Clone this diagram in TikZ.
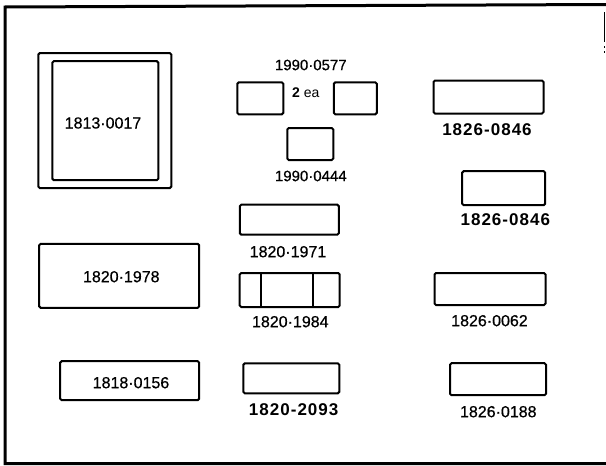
\documentclass[tikz,border=0pt]{standalone}
\usepackage{fontspec}
\setmainfont{Liberation Sans}
\begin{document}
\begin{tikzpicture}[x=1pt,y=-1pt,
  part/.style={draw,line width=2pt,rounded corners=1.5pt,inner sep=0pt},
  lbl/.style={inner sep=0pt,font=\fontsize{16}{18}\selectfont\addfontfeature{FakeBold=0.6}},
  lblsm/.style={inner sep=0pt,font=\fontsize{15}{17}\selectfont\addfontfeature{FakeBold=0.6}},
  lblbold/.style={inner sep=0pt,font=\fontsize{17}{19}\selectfont\bfseries\addfontfeature{LetterSpace=6}},
  frame/.style={line width=3pt,line cap=round}]
\useasboundingbox (0,0) rectangle (606,466);
% frame
\coordinate (ftl) at (5,7);
\coordinate (ftr) at (606,4.5);
\coordinate (fbl) at (5,463.5);
\coordinate (fbr) at (606,463.5);
\coordinate (frt) at (604.5,12);
\coordinate (frb) at (604.5,42);
\coordinate (frd1) at (604.5,46);
\coordinate (frd2) at (604.5,55);
\draw[frame] (ftr) -- (ftl) -- (fbl) -- (fbr);
\draw[line width=1.5pt] (frt) -- (frb);
\draw[line width=1.2pt,dash pattern=on 2pt off 3pt] (frd1) -- (frd2);
% 1813-0017
\node[part,minimum width=133pt,minimum height=135pt] (o1813) at (104.8,120.6) {};
\node[part,minimum width=106pt,minimum height=119pt] (i1813) at (105.3,120.7) {};
\node[lbl] (t1813) at (103,123) {1813·0017};
% 1990-0577 / 0444
\node[lblsm] (t0577) at (310.8,65) {1990·0577};
\node[part,minimum width=46pt,minimum height=32pt] (b0577a) at (260.3,98.3) {};
\node[part,minimum width=43pt,minimum height=32pt] (b0577b) at (355.3,98.3) {};
\node[inner sep=0pt,font=\fontsize{14}{16}\selectfont] (t2ea) at (305.8,92.7) {\textbf{2} ea};
\node[part,minimum width=46pt,minimum height=32pt] (b0444) at (310.3,144) {};
\node[lblsm] (t0444) at (310.8,176) {1990·0444};
% right column
\node[part,minimum width=110pt,minimum height=33pt] (b0846a) at (488.5,97) {};
\node[lblbold] (t0846a) at (487,130) {1826-0846};
\node[part,minimum width=83pt,minimum height=34pt] (b0846b) at (503.7,188.2) {};
\node[lblbold] (t0846b) at (505.3,220) {1826-0846};
\node[part,minimum width=111pt,minimum height=32pt] (b0062) at (490,289) {};
\node[lbl] (t0062) at (489.5,320.7) {1826·0062};
\node[part,minimum width=96pt,minimum height=32pt] (b0188) at (498,379.2) {};
\node[lbl] (t0188) at (498.3,411.7) {1826·0188};
% left column lower
\node[part,minimum width=160pt,minimum height=64pt] (b1978) at (119.2,275.8) {};
\node[lbl] (t1978) at (121.3,276.7) {1820·1978};
\node[part,minimum width=139pt,minimum height=39pt] (b0156) at (129.7,380.7) {};
\node[lbl] (t0156) at (131,382.7) {1818·0156};
% middle column lower
\node[part,minimum width=99pt,minimum height=30pt] (b1971) at (289.3,219.7) {};
\node[lbl] (t1971) at (288,251.7) {1820·1971};
\node[part,minimum width=100pt,minimum height=34pt] (b1984) at (289.7,290) {};
\draw[line width=2pt] (b1984.north west) ++(22.4,0) coordinate (d1t) -- (d1t |- b1984.south);
\draw[line width=2pt] (b1984.north west) ++(74.7,0) coordinate (d2t) -- (d2t |- b1984.south);
\node[lbl] (t1984) at (290.3,321.7) {1820·1984};
\node[part,minimum width=96pt,minimum height=30pt] (b2093) at (291.3,378.3) {};
\node[lblbold] (t2093) at (293.7,410) {1820-2093};
\end{tikzpicture}
\end{document}
